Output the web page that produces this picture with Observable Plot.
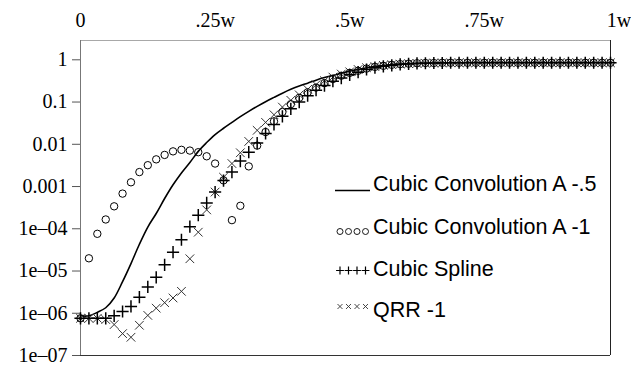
<!DOCTYPE html>
<html>
<head>
<meta charset="utf-8">
<script src="https://cdn.jsdelivr.net/npm/d3@7"></script>
<script src="https://cdn.jsdelivr.net/npm/@observablehq/plot@0.6"></script>
<style>
  body { margin: 0; background: #fff; }
  #wrap { position: relative; width: 631px; height: 366px; overflow: hidden; }
  #legend { position: absolute; left: 0; top: 0; font-family: "Liberation Sans", Arial, sans-serif; font-size: 21.5px; color: #000; }
  .lrow { position: absolute; left: 373px; white-space: nowrap; line-height: 24px; }
  #swatches { position: absolute; left: 0; top: 0; }
</style>
</head>
<body>
<div id="wrap"><div id="legend"></div></div>
<script>
// ---- data (sample index i -> position i/64 of w) ----
const sampleCount = 64;
const seriesNames = ["Cubic Convolution A -.5", "Cubic Convolution A -1", "Cubic Spline", "QRR -1"];

const cubicConvA05 = [8.7e-7, 8.7e-7, 1.05e-6, 1.35e-6, 2.3e-6, 5.6e-6, 1.5e-5, 4.3e-5, 1.1e-4, 2.3e-4,
  5.2e-4, 1.1e-3, 2.1e-3, 3.7e-3, 6.8e-3, 0.011, 0.017, 0.024, 0.033, 0.045,
  0.060, 0.079, 0.102, 0.129, 0.162, 0.20, 0.24, 0.28, 0.33, 0.38,
  0.43, 0.48, 0.54, 0.59, 0.65, 0.69, 0.73, 0.77, 0.79, 0.81,
  0.83, 0.84, 0.84, 0.85, 0.85, 0.85, 0.86, 0.86, 0.86, 0.86,
  0.86, 0.86, 0.86, 0.86, 0.86, 0.86, 0.86, 0.86, 0.86, 0.86,
  0.86, 0.86, 0.86, 0.86];

const cubicConvA1 = [7.6e-7, 2.0e-5, 7.6e-5, 1.66e-4, 3.4e-4, 6.8e-4, 1.26e-3, 2.2e-3, 3.2e-3, 4.4e-3,
  5.6e-3, 6.8e-3, 7.4e-3, 7.1e-3, 6.5e-3, 5.2e-3, 3.5e-3, 1.4e-3, 1.6e-4, 3.5e-4,
  3.0e-3, 9.3e-3, 0.0195, 0.035, 0.058, 0.089, 0.126, 0.17, 0.22, 0.28,
  0.35, 0.42, 0.49, 0.55, 0.62, 0.68, 0.72, 0.76, 0.79, 0.81,
  0.83, 0.84, 0.84, 0.85, 0.85, 0.85, 0.85, 0.85, 0.85, 0.85,
  0.85, 0.85, 0.85, 0.85, 0.85, 0.85, 0.85, 0.85, 0.85, 0.85,
  0.85, 0.85, 0.85, 0.85];

const cubicSpline = [7.6e-7, 7.6e-7, 7.6e-7, 7.6e-7, 8.7e-7, 1.1e-6, 1.45e-6, 2.4e-6, 4.2e-6, 7.1e-6,
  1.4e-5, 2.8e-5, 5.5e-5, 1.12e-4, 2.1e-4, 4.1e-4, 7.4e-4, 1.38e-3, 2.2e-3, 4.0e-3,
  6.5e-3, 0.0107, 0.018, 0.0295, 0.046, 0.069, 0.10, 0.141, 0.19, 0.245,
  0.31, 0.37, 0.44, 0.51, 0.59, 0.65, 0.70, 0.74, 0.78, 0.80,
  0.82, 0.83, 0.84, 0.84, 0.85, 0.85, 0.85, 0.85, 0.85, 0.85,
  0.85, 0.85, 0.85, 0.85, 0.85, 0.85, 0.85, 0.85, 0.85, 0.85,
  0.85, 0.85, 0.85, 0.85];

const qrr1 = [7.6e-7, 7.6e-7, 7.6e-7, 7.1e-7, 5.4e-7, 3.3e-7, 2.7e-7, 5.2e-7, 8.9e-7, 1.32e-6,
  1.78e-6, 2.3e-6, 3.3e-6, 1.95e-5, 8.3e-5, 2.8e-4, 7.4e-4, 1.66e-3, 3.5e-3, 6.3e-3,
  0.0117, 0.0214, 0.033, 0.050, 0.076, 0.11, 0.148, 0.20, 0.257, 0.32,
  0.39, 0.46, 0.52, 0.59, 0.65, 0.69, 0.74, 0.77, 0.79, 0.81,
  0.82, 0.83, 0.84, 0.84, 0.85, 0.85, 0.85, 0.85, 0.85, 0.85,
  0.85, 0.85, 0.85, 0.85, 0.85, 0.85, 0.85, 0.85, 0.85, 0.85,
  0.85, 0.85, 0.85, 0.85];

const xTicks = [0, 0.25, 0.5, 0.75, 1];
const xTickLabels = ["0", ".25w", ".5w", ".75w", "1w"];
const yTicks = [1, 0.1, 0.01, 0.001, 1e-4, 1e-5, 1e-6, 1e-7];
const yTickLabels = ["1", "0.1", "0.01", "0.001", "1e\u201304", "1e\u201305", "1e\u201306", "1e\u201307"];

// ---- build table ----
const toRows = arr => arr.map((v, i) => ({x: i / sampleCount, y: v}));
const rowsA05 = toRows(cubicConvA05);
const rowsA1 = toRows(cubicConvA1);
const rowsSpline = toRows(cubicSpline);
const rowsQrr = toRows(qrr1);

const xLabel = new Map(xTicks.map((t, i) => [t, xTickLabels[i]]));
const yLabel = new Map(yTicks.map((t, i) => [t, yTickLabels[i]]));

const xMax = (sampleCount - 1) / sampleCount;
const yTop = Math.pow(10, 0.457);

const chart = Plot.plot({
  width: 631,
  height: 366,
  marginLeft: 80,
  marginRight: 21,
  marginTop: 40,
  marginBottom: 11,
  style: {fontFamily: '"Liberation Serif", "Times New Roman", serif', fontSize: "20px", background: "white", color: "black", overflow: "visible"},
  x: {domain: [0, xMax], label: null},
  y: {type: "log", domain: [1e-7, yTop], label: null},
  marks: [
    Plot.axisX({anchor: "top", ticks: xTicks, tickFormat: d => xLabel.get(d), tickSize: 0, tickPadding: 14, fontSize: 20, label: null}),
    Plot.axisY({anchor: "left", ticks: yTicks, tickFormat: d => yLabel.get(d), tickSize: 8, tickPadding: 5, fontSize: 20, stroke: "#555", label: null}),
    Plot.ruleY([yTop], {stroke: "#a8a8a8"}),
    Plot.ruleY([1e-7], {stroke: "#333"}),
    Plot.ruleX([0], {stroke: "#777"}),
    Plot.ruleX([xMax], {stroke: "#222"}),
    Plot.line(rowsA05, {x: "x", y: "y", stroke: "black", strokeWidth: 1.6, curve: "catmull-rom"}),
    Plot.dot(rowsQrr, {x: "x", y: "y", symbol: "times", r: 4, stroke: "#333", strokeWidth: 1, fill: "none"}),
    Plot.dot(rowsSpline, {x: "x", y: "y", symbol: "plus", r: 4, stroke: "black", strokeWidth: 1.5, fill: "none"}),
    Plot.dot(rowsA1, {x: "x", y: "y", symbol: "circle", r: 3.7, stroke: "black", strokeWidth: 1, fill: "none"})
  ]
});
document.getElementById("wrap").prepend(chart);

// ---- legend ----
const legend = document.getElementById("legend");
const rowCenters = [184, 226.5, 268.5, 310];
seriesNames.forEach((name, k) => {
  const div = document.createElement("div");
  div.className = "lrow";
  div.style.top = (rowCenters[k] - 12) + "px";
  div.textContent = name;
  legend.appendChild(div);
});
const sw = d3.select(legend).append("svg").attr("id", "swatches").attr("width", 631).attr("height", 366);
const swY = [190.5, 231.5, 270.5, 306.5];
sw.append("line").attr("x1", 335).attr("x2", 370).attr("y1", swY[0]).attr("y2", swY[0]).attr("stroke", "black").attr("stroke-width", 1.3);
const swX = [340, 348.5, 357, 365.5];
const sym = [null, d3.symbolCircle, d3.symbolPlus, d3.symbolTimes];
const sizes = [0, Math.PI * 3 * 3, 22, 18];
[1, 2, 3].forEach(k => {
  swX.forEach(x => {
    sw.append("path").attr("d", d3.symbol(sym[k], sizes[k])())
      .attr("transform", `translate(${x},${swY[k]})`)
      .attr("fill", "none").attr("stroke", k === 3 ? "#333" : "black").attr("stroke-width", k === 2 ? 1.2 : 0.9);
  });
});
</script>
</body>
</html>
